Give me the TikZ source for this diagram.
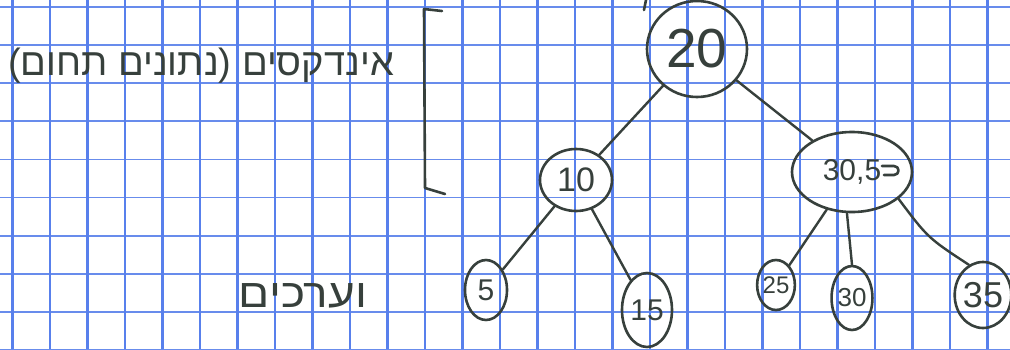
\documentclass[tikz,border=0pt]{standalone}
\usepackage{fontspec}
\setmainfont{Liberation Sans}
\newfontfamily\hebfont[Script=Hebrew]{Liberation Sans}
\TeXXeTstate=1
\usetikzlibrary{shapes.geometric}
\definecolor{gridblue}{RGB}{88,128,236}
\definecolor{gridblueh}{RGB}{104,140,236}
\definecolor{ink}{RGB}{55,64,60}
\tikzset{
  inkline/.style={draw=ink, line width=2.6pt, line cap=round, line join=round},
  knot/.style={ellipse, draw=ink, line width=2.6pt, inner sep=0pt, text=ink},
  conn/.style={draw=ink, line width=2.4pt, line cap=round},
  txt/.style={text=ink, inner sep=0pt},
  gridv/.style={draw=gridblue, line width=2.2pt},
  gridh/.style={draw=gridblueh, line width=1.8pt}
}
\begin{document}
\begin{tikzpicture}[x=1pt,y=-1pt]
\fill[white] (0,0) rectangle (1010,349);
\useasboundingbox (0,0) rectangle (1010,349);
\foreach \k in {0,...,9} \draw[gridh] (0,7+38.1*\k) -- (1010,7+38.1*\k);
\foreach \k in {0,...,26} \draw[gridv] (12.5+37.5*\k,0) -- (12.5+37.5*\k,349);

% texts
\node[txt, font=\hebfont\fontsize{38}{38}\selectfont] (t1) at (201,66) {\beginR אינדקסים (נתונים תחום)\endR};
\node[txt, font=\hebfont\fontsize{40}{40}\selectfont, xscale=1.15] (t2) at (303,296) {\beginR וערכים\endR};

% bracket
\draw[inkline] (442,11) -- (424,9) -- (425,188) -- (445,194);
% stray mark
\draw[inkline] (646,0) -- (644,10);

% nodes
\node[knot, minimum width=100pt, minimum height=96pt, font=\fontsize{55}{55}\selectfont] (n20) at (697,49) {20};
\node[knot, minimum width=72pt, minimum height=62pt, font=\fontsize{34}{34}\selectfont] (n10) at (576,180) {10};
\node[knot, minimum width=120pt, minimum height=80pt, font=\fontsize{30}{30}\selectfont] (n30) at (852,172) {30,5};
\node[knot, minimum width=42pt, minimum height=60pt, font=\fontsize{30}{30}\selectfont] (l5) at (486,290) {5};
\node[knot, minimum width=50pt, minimum height=74pt, font=\fontsize{30}{30}\selectfont] (l15) at (647,310) {15};
\node[knot, minimum width=34pt, minimum height=50pt, font=\fontsize{24}{24}\selectfont] (l25) at (776,285) {25};
\node[knot, minimum width=40pt, minimum height=64pt, font=\fontsize{26}{26}\selectfont] (l30) at (852,298) {30};
\node[knot, minimum width=54pt, minimum height=66pt, font=\fontsize{36}{36}\selectfont] (l35) at (983,295) {35};

% hook after "30,5"
\draw[inkline] (n30.center) ++(30,-6) -- ++(12,0) .. controls +(6,0) and +(6,0) .. ++(0,9) -- ++(-10,0);

% connectors
\draw[conn] (n20) -- (n10);
\draw[conn] (n20) -- (n30);
\draw[conn] (n10) -- (l5);
\draw[conn] (n10) -- (l15);
\draw[conn] (n30) -- (l25);
\draw[conn] (n30.-97) -- (l30.north);
\draw[conn] (n30.-30) .. controls (928,238) .. (l35.115);
\end{tikzpicture}
\end{document}
